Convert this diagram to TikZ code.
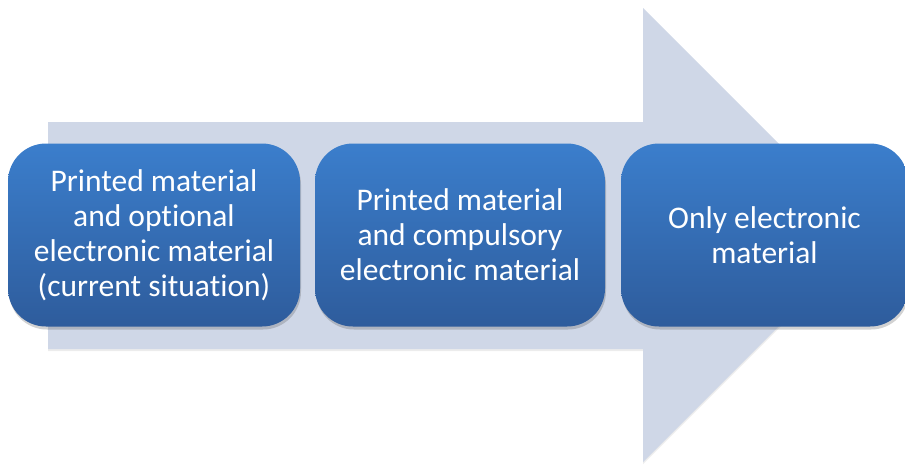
\documentclass[tikz,border=0pt]{standalone}
\usepackage{fontspec}
\setmainfont{Carlito}[Ligatures={NoCommon}]
\usetikzlibrary{shadows}
\definecolor{arrowfill}{HTML}{CFD7E7}
\definecolor{boxtop}{HTML}{3B7ECC}
\definecolor{boxbot}{HTML}{2E5C9C}
\tikzset{
  stagebox/.style={rectangle, rounded corners=38pt, top color=boxtop, bottom color=boxbot,
    draw=none, text=white, align=center, font=\fontsize{31.5}{35}\selectfont,
    minimum height=183pt, inner sep=0pt,
    drop shadow={shadow xshift=1pt, shadow yshift=-3pt, opacity=0.25, fill=black!70}},
}
\begin{document}
\begin{tikzpicture}[x=1pt,y=-1pt]
\useasboundingbox (0,0) rectangle (905,467);
\fill[arrowfill, drop shadow={shadow xshift=0pt, shadow yshift=-2pt, opacity=0.15}]
  (48,122) -- (643,122) -- (643,8) -- (870,235) -- (643,462) -- (643,349) -- (48,349) -- cycle;
\node[stagebox, minimum width=292pt] (a) at (154,235)
  {Printed material\\and optional\\electronic material\\(current situation)};
\node[stagebox, minimum width=290pt] (b) at (460,235)
  {Printed material\\and compulsory\\electronic material};
\node[stagebox, minimum width=287pt] (c) at (764.5,235)
  {Only electronic\\material};
\end{tikzpicture}
\end{document}
